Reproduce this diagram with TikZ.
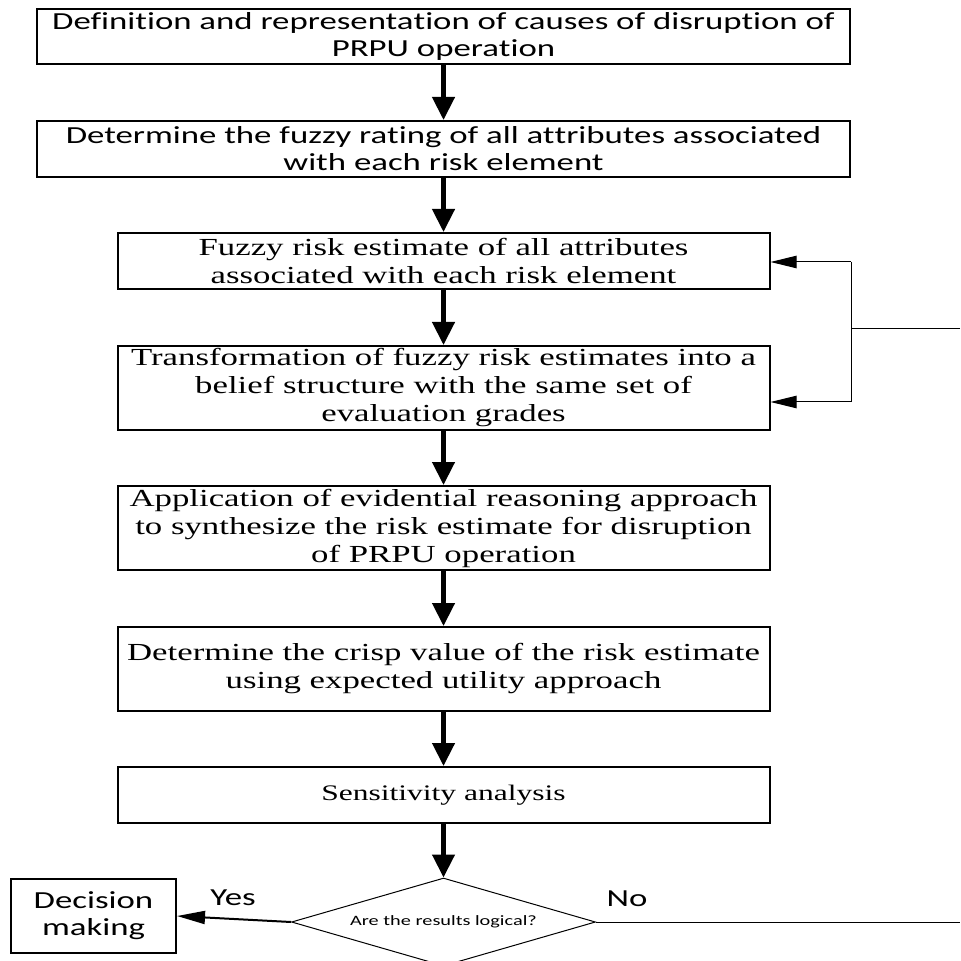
\documentclass[tikz,border=0pt]{standalone}
\usepackage{fontspec}
\setmainfont{Liberation Serif}[FakeStretch=1.42]
\newfontfamily\calfont{Carlito}[FakeStretch=1.42, RawFeature={-liga;-clig;-calt;-dlig}]
\usetikzlibrary{arrows.meta,shapes.geometric}
% break the t-i glyph join of the sans face
\newcommand{\nj}{\kern0pt{}}

\begin{document}
\begin{tikzpicture}[x=0.5pt,y=-0.5pt,
  box/.style={draw=black, line width=1pt, inner sep=0pt, align=center, fill=white},
  serif/.style={font=\fontsize{12.25}{14}\selectfont},
  sans/.style={font=\calfont\fontsize{12.25}{13.5}\selectfont},
  bigarrow/.style={line width=2.2pt, -{Triangle[length=11.5pt,width=11pt]}},
  thinarrow/.style={line width=0.5pt, -{Triangle[length=13pt,width=6.2pt]}},
  yesarrow/.style={line width=1pt, -{Triangle[length=14pt,width=6.5pt]}},
  plainline/.style={line width=0.5pt}
]
\useasboundingbox (0,0) rectangle (960,961);
\clip (0,0) rectangle (960,961);

% process steps
\node[box, sans, minimum width=406.5pt, minimum height=27.5pt] (b1) at (443.5,36.5)
  {Defini\nj tion and representa\nj tion of causes of disrup\nj tion of\\PRPU opera\nj tion};
\node[box, sans, minimum width=406.5pt, minimum height=28pt] (b2) at (443.5,149)
  {Determine the fuzzy ra\nj ting of all at\nj tributes associated\\with each risk element};
\node[box, serif, minimum width=326pt, minimum height=28pt] (b3) at (443.5,261)
  {Fuzzy risk estimate of all attributes\\associated with each risk element};
\node[box, serif, minimum width=326pt, minimum height=42pt] (b4) at (443.5,388)
  {Transformation of fuzzy risk estimates into a\\belief structure with the same set of\\evaluation grades};
\node[box, serif, minimum width=326pt, minimum height=42pt] (b5) at (443.5,528)
  {Application of evidential reasoning approach\\to synthesize the risk estimate for disruption\\of PRPU operation};
\node[box, serif, minimum width=326pt, minimum height=42pt] (b6) at (443.5,669)
  {Determine the crisp value of the risk estimate\\using expected utility approach};
\node[box, font=\fontsize{11.1}{13}\selectfont, minimum width=326pt, minimum height=28pt] (b7) at (443.5,795)
  {Sensitivity analysis};

% decision
\node[diamond, draw=black, line width=0.5pt, inner sep=0pt, shape aspect=3.45,
  minimum width=152pt, minimum height=44pt,
  font=\calfont\fontsize{7.15}{8}\selectfont] (dia) at (443.5,922) {Are the results logical?};
\node[box, sans, minimum width=82.5pt, minimum height=37pt, align=center] (dec) at (93.5,916)
  {Decision\\making};

% main flow
\draw[bigarrow] (b1.south) -- (b2.north);
\draw[bigarrow] (b2.south) -- (b3.north);
\draw[bigarrow] (b3.south) -- (b4.north);
\draw[bigarrow] (b4.south) -- (b5.north);
\draw[bigarrow] (b5.south) -- (b6.north);
\draw[bigarrow] (b6.south) -- (b7.north);
\draw[bigarrow] (b7.south) -- (dia.north);

% branches
\node[sans, inner sep=0pt] (yes) at (233,898) {Yes};
\node[sans, inner sep=0pt] (no) at (627,899) {No};
\draw[yesarrow] (dia.west) -- (dec.east);
\coordinate (noEnd) at (960,922);
\draw[plainline] (dia.east) -- (noEnd);

% feedback loop
\coordinate (fbIn) at (960,329);
\coordinate (fbJ) at (851,329);
\coordinate (fbTop) at (851,262);
\coordinate (fbBot) at (851,402);
\draw[plainline] (fbIn) -- (fbJ);
\draw[plainline] (fbTop) -- (fbBot);
\draw[thinarrow] (fbTop) -- (fbTop -| b3.east);
\draw[thinarrow] (fbBot) -- (fbBot -| b4.east);
\end{tikzpicture}
\end{document}
